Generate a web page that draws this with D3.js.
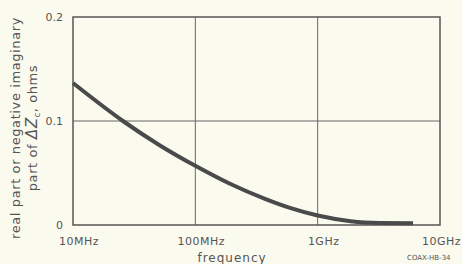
<!DOCTYPE html>
<html>
<head>
<meta charset="utf-8">
<script src="https://cdn.jsdelivr.net/npm/d3@7"></script>
<style>
  body { margin: 0; background: #fbfaef; }
  svg { display: block; }
  text { font-family: "DejaVu Sans", sans-serif; fill: #555; }
</style>
</head>
<body>
<svg id="chart" width="462" height="264"></svg>
<script>
// curve: frequency in Hz, delta Z in ohms
const freqs = [1e7, 2.56e7, 5.14e7, 1e8, 1.92e8, 3.71e8, 5.94e8, 1e9, 1.86e9, 3.23e9, 6.02e9];
const dz = [0.1365, 0.1, 0.0765, 0.0569, 0.0396, 0.0251, 0.0164, 0.0091, 0.0037, 0.002, 0.0017];

const xTicks = [1e7, 1e8, 1e9, 1e10];
const xTickLabels = ["10MHz", "100MHz", "1GHz", "10GHz"];
const yTicks = [0, 0.1, 0.2];
const yTickLabels = ["0", "0.1", "0.2"];

const svg = d3.select("#chart");
const W = 462;
const pLeft = 73, pRight = 440, pTop = 17, pBottom = 225;

const x = d3.scaleLog().domain([1e7, 1e10]).range([pLeft, pRight]);
const y = d3.scaleLinear().domain([0, 0.2]).range([pBottom, pTop]);

// grid lines
svg.selectAll("line.vgrid")
  .data(xTicks.slice(1, -1))
  .enter().append("line")
  .attr("x1", d => x(d)).attr("x2", d => x(d))
  .attr("y1", pTop).attr("y2", pBottom)
  .attr("stroke", "#666").attr("stroke-width", 1);

svg.selectAll("line.hgrid")
  .data(yTicks.slice(1, -1))
  .enter().append("line")
  .attr("x1", pLeft).attr("x2", pRight)
  .attr("y1", d => y(d)).attr("y2", d => y(d))
  .attr("stroke", "#666").attr("stroke-width", 1);

// frame
svg.append("rect")
  .attr("x", pLeft).attr("y", pTop)
  .attr("width", pRight - pLeft).attr("height", pBottom - pTop)
  .attr("fill", "none").attr("stroke", "#555").attr("stroke-width", 1.5);

// tick labels
svg.selectAll("text.ytick")
  .data(yTicks)
  .enter().append("text")
  .attr("x", pLeft - 10)
  .attr("y", d => y(d) + 4)
  .attr("text-anchor", "end")
  .attr("font-size", "11px")
  .text((d, i) => yTickLabels[i]);

svg.selectAll("text.xtick")
  .data(xTicks)
  .enter().append("text")
  .attr("y", 245)
  .attr("text-anchor", "middle")
  .attr("font-size", "11px")
  .attr("letter-spacing", "0.5px")
  .text((d, i) => xTickLabels[i])
  .attr("x", function (d) {
    // keep the last label inside the window
    const half = this.getComputedTextLength() / 2;
    return Math.min(x(d) + 6, W - half - 1);
  });

// axis titles
svg.append("text")
  .attr("x", 232).attr("y", 262)
  .attr("text-anchor", "middle")
  .attr("font-size", "12px")
  .attr("letter-spacing", "1px")
  .text("frequency");

svg.append("text")
  .attr("x", 407).attr("y", 260)
  .attr("font-size", "7px")
  .text("COAX-HB-34");

const yl = svg.append("g").attr("transform", "translate(20,128) rotate(-90)");
yl.append("text")
  .attr("text-anchor", "middle")
  .attr("font-size", "13px")
  .attr("letter-spacing", "0.6px")
  .text("real part or negative imaginary");
const yl2 = yl.append("text")
  .attr("y", 17)
  .attr("text-anchor", "middle")
  .attr("font-size", "13px")
  .attr("letter-spacing", "0.6px");
yl2.append("tspan").text("part of ");
yl2.append("tspan").attr("font-style", "italic").attr("font-size", "15px").text("ΔZ");
yl2.append("tspan").attr("font-size", "8px").attr("dy", 3).text("c");
yl2.append("tspan").attr("dy", -3).text(", ohms");

// curve
const line = d3.line()
  .x((d, i) => x(freqs[i]))
  .y(d => y(d))
  .curve(d3.curveMonotoneX);

svg.append("path")
  .datum(dz)
  .attr("d", line)
  .attr("fill", "none")
  .attr("stroke", "#4a4a4a")
  .attr("stroke-width", 4)
  .attr("stroke-linecap", "butt");
</script>
</body>
</html>
